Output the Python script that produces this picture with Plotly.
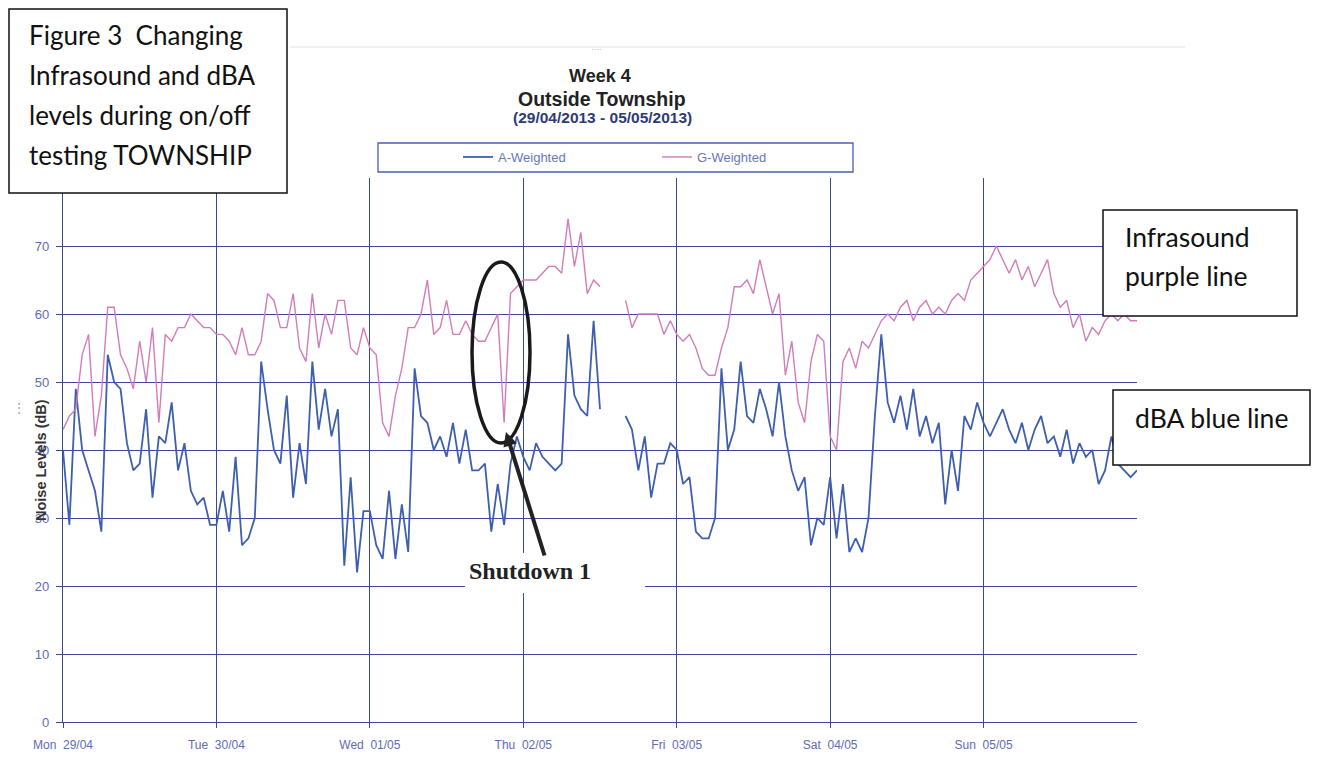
import plotly.graph_objects as go

# ---------------- data (hourly readings, dB) ----------------
day_labels = ["Mon  29/04", "Tue  30/04", "Wed  01/05", "Thu  02/05",
              "Fri  03/05", "Sat  04/05", "Sun  05/05"]
y_ticks = [0, 10, 20, 30, 40, 50, 60, 70]

a_mon = [40, 29, 49, 40, 37, 34, 28, 54, 50, 49, 41, 37, 38, 46, 33, 42, 41, 47, 37, 41, 34, 32, 33, 29]
a_tue = [29, 34, 28, 39, 26, 27, 30, 53, 46, 40, 38, 48, 33, 41, 35, 53, 43, 49, 42, 46, 23, 36, 22, 31]
a_wed = [31, 26, 24, 34, 24, 32, 25, 52, 45, 44, 40, 42, 39, 44, 38, 43, 37, 37, 38, 28, 35, 29, 38, 42]
a_thu = [39, 37, 41, 39, 38, 37, 38, 57, 48, 46, 45, 59, 46, None, None, None, 45, 43, 37, 42, 33, 38, 38, 41]
a_fri = [40, 35, 36, 28, 27, 27, 30, 52, 40, 43, 53, 45, 44, 49, 46, 42, 50, 42, 37, 34, 36, 26, 30, 29]
a_sat = [36, 27, 35, 25, 27, 25, 30, 45, 57, 47, 44, 48, 43, 49, 42, 45, 41, 44, 32, 40, 34, 45, 43, 47]
a_sun = [44, 42, 44, 46, 43, 41, 44, 40, 43, 45, 41, 42, 39, 43, 38, 41, 39, 40, 35, 37, 42, 38, 37, 36]
a_end = [37]

g_mon = [43, 45, 46, 54, 57, 42, 48, 61, 61, 54, 52, 49, 56, 50, 58, 44, 57, 56, 58, 58, 60, 59, 58, 58]
g_tue = [57, 57, 56, 54, 58, 54, 54, 56, 63, 62, 58, 58, 63, 55, 53, 63, 55, 60, 57, 62, 62, 55, 54, 58]
g_wed = [55, 54, 44, 42, 48, 52, 58, 58, 60, 65, 57, 58, 62, 57, 57, 59, 57, 56, 56, 58, 60, 44, 63, 64]
g_thu = [65, 65, 65, 66, 67, 67, 66, 74, 67, 72, 63, 65, 64, None, None, None, 62, 58, 60, 60, 60, 60, 57, 59]
g_fri = [57, 56, 57, 55, 52, 51, 51, 55, 58, 64, 64, 65, 63, 68, 64, 60, 63, 51, 56, 47, 44, 53, 57, 56]
g_sat = [42, 40, 53, 55, 52, 56, 55, 57, 59, 60, 59, 61, 62, 59, 61, 62, 60, 61, 60, 62, 63, 62, 65, 66]
g_sun = [67, 68, 70, 68, 66, 68, 65, 67, 64, 66, 68, 63, 61, 62, 58, 60, 56, 58, 57, 59, 60, 59, 60, 59]
g_end = [59]

a_weighted = a_mon + a_tue + a_wed + a_thu + a_fri + a_sat + a_sun + a_end
g_weighted = g_mon + g_tue + g_wed + g_thu + g_fri + g_sat + g_sun + g_end
hours = list(range(len(a_weighted)))
day_ticks = [24 * i for i in range(len(day_labels))]

# ---------------- layout helpers (page pixel coords; body has 8px margin) ----------------
OFF = 8
W, H = 1320 - 2 * OFF, 759 - 2 * OFF
PL, PR, PT, PB = 63, 1137, 178, 722          # plot area in page pixels


def X(px):
    return (px - PL) / (PR - PL)


def Y(py):
    return (PB - py) / (PB - PT)


GRID = "#3a4796"
TICK = "#5d6bb8"

fig = go.Figure()
fig.add_trace(go.Scatter(x=hours, y=a_weighted, mode="lines", name="A-Weighted",
                         line=dict(color="#3e5fae", width=1.8), connectgaps=False))
fig.add_trace(go.Scatter(x=hours, y=g_weighted, mode="lines", name="G-Weighted",
                         line=dict(color="#d27cba", width=1.4), connectgaps=False))

shapes = []
shapes.append(dict(type="rect", xref="paper", yref="paper", x0=X(465), x1=X(645),
                   y0=Y(593), y1=Y(553), fillcolor="white", line=dict(width=0), layer="above"))
shapes.append(dict(type="rect", xref="paper", yref="paper", x0=X(378), x1=X(853),
                   y0=Y(172), y1=Y(143), line=dict(color="#4a5cb8", width=1.3), layer="above"))
shapes.append(dict(type="line", xref="paper", yref="paper", x0=X(290), x1=X(1185),
                   y0=Y(47), y1=Y(47), line=dict(color="#dfe2ea", width=1), layer="above"))
for (x0, y0, x1, y1) in [(9, 9, 287, 193), (1103, 210, 1297, 316), (1113, 390, 1310, 465)]:
    shapes.append(dict(type="rect", xref="paper", yref="paper", x0=X(x0), x1=X(x1),
                       y0=Y(y1), y1=Y(y0), fillcolor="white",
                       line=dict(color="#111", width=1.5), layer="above"))
shapes.append(dict(type="circle", xref="paper", yref="paper", x0=X(472), x1=X(530),
                   y0=Y(443), y1=Y(262), line=dict(color="#1a1a1a", width=3.5), layer="above"))

ann = []


def txt(px, py, text, size, family="Arial", color="#111", xanchor="center", **kw):
    ann.append(dict(x=X(px), y=Y(py), xref="paper", yref="paper", text=text,
                    xanchor=xanchor, yanchor="middle", showarrow=False,
                    font=dict(family=family, size=size, color=color), **kw))


txt(600, 76, "<b>Week 4</b>", 18, color="#222")
txt(602, 99, "<b>Outside Township</b>", 19.5, color="#222")
txt(602, 118, "<b>(29/04/2013 - 05/05/2013)</b>", 15.5, color="#2d3a78")
txt(41, 460, "<b>Noise Levels (dB)</b>", 14.5, color="#333", textangle=-90)
for i, line in enumerate(["Figure 3  Changing", "Infrasound and dBA",
                          "levels during on/off", "testing TOWNSHIP"]):
    txt(27, 35 + 40 * i, line, 26, family="Lato", xanchor="left")
txt(1123, 237, "Infrasound", 26.5, family="Lato", xanchor="left")
txt(1123, 276, "purple line", 26.5, family="Lato", xanchor="left")
txt(1133, 418, "dBA blue line", 26.5, family="Lato", xanchor="left")
txt(530, 571, "<b>Shutdown 1</b>", 24, family="Liberation Serif", color="#222")
txt(596, 50, "····", 8, color="#8aa0d0")
txt(11, 408, "⋮", 12, color="#8aa0d0", xanchor="left")
ann.append(dict(x=X(506), y=Y(432), xref="paper", yref="paper", text="", showarrow=True,
                ax=39, ay=125, arrowhead=2, arrowsize=0.7, arrowwidth=4, arrowcolor="#222"))

fig.update_layout(
    width=W, height=H,
    margin=dict(l=PL - OFF, r=W - (PR - OFF), t=PT - OFF, b=H - (PB - OFF), pad=0),
    paper_bgcolor="white", plot_bgcolor="white",
    showlegend=True,
    legend=dict(orientation="h", x=X(458), y=Y(157), xanchor="left", yanchor="middle",
                entrywidth=154, entrywidthmode="pixels", itemwidth=30,
                bgcolor="rgba(0,0,0,0)", borderwidth=0,
                font=dict(family="Arial", size=13, color="#6a78b8")),
    shapes=shapes, annotations=ann,
    xaxis=dict(range=[0, 168], tickvals=day_ticks, ticktext=day_labels, automargin=False,
               showgrid=True, gridcolor=GRID, gridwidth=1.3, zeroline=False,
               showline=True, linecolor=GRID, linewidth=1.3,
               ticks="outside", ticklen=5, tickcolor=GRID, ticklabelstandoff=6,
               tickfont=dict(family="Arial", size=12, color=TICK)),
    yaxis=dict(range=[0, 80], tickvals=y_ticks, automargin=False,
               showgrid=True, gridcolor=GRID, gridwidth=1.3,
               zeroline=False, showline=True, linecolor=GRID, linewidth=1.3,
               ticks="outside", ticklen=6, tickcolor=GRID, ticklabelstandoff=4,
               tickfont=dict(family="Arial", size=13, color=TICK)),
)

fig.write_html("out.html")
